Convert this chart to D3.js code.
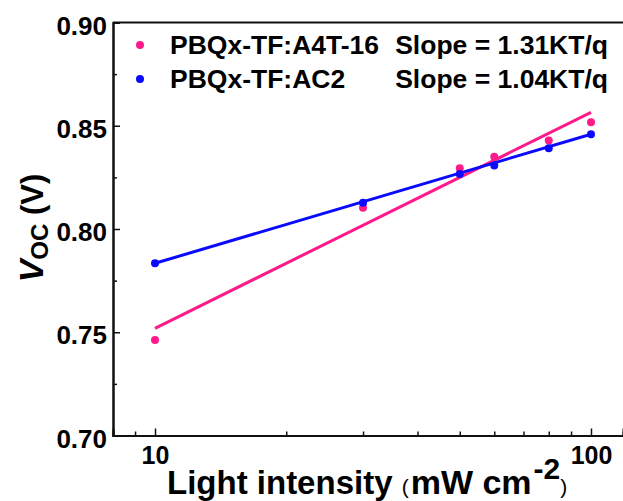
<!DOCTYPE html>
<html>
<head>
<meta charset="utf-8">
<script src="https://cdn.jsdelivr.net/npm/d3@7"></script>
<style>
  body { margin: 0; background: #fff; }
  svg { display: block; font-family: "Liberation Sans", Arial, sans-serif; }
</style>
</head>
<body>
<svg id="chart" width="623" height="501"></svg>
<script>
// light intensity (mW cm-2)
const intensity = [10, 30, 50, 60, 80, 100];
// Voc values
const vocA4T = [0.7462, 0.8103, 0.8294, 0.8350, 0.8428, 0.8517];
const vocAC2 = [0.7834, 0.8127, 0.8266, 0.8307, 0.8391, 0.8459];
// fitted lines, end points at 10 and 100
const fitX = [10, 100];
const fitA4T = [0.7519, 0.8565];
const fitAC2 = [0.7834, 0.8459];

const seriesNames = ['PBQx-TF:A4T-16', 'PBQx-TF:AC2'];
const slopeLabels = ['Slope = 1.31KT/q', 'Slope = 1.04KT/q'];
const colors = ['#ff1a8c', '#0a0aff'];

const yTicks = [0.70, 0.75, 0.80, 0.85, 0.90];
const yMinor = [0.725, 0.775, 0.825, 0.875];
const xTicks = [10, 100];
const xMinor = [9, 20, 30, 40, 50, 60, 70, 80, 90];

const svg = d3.select('#chart');
const pLeft = 113, pRight = 623, pTop = 22.5, pBottom = 435.5;

let x = d3.scaleLog().domain([10, 100]).range([155, 591]);
x.domain([x.invert(pLeft), x.invert(pRight)]).range([pLeft, pRight]);
let y = d3.scaleLinear().domain([0.70, 0.90]).range([pBottom, pTop]);

// top frame line
svg.append('line')
  .attr('x1', pLeft).attr('x2', pRight)
  .attr('y1', pTop).attr('y2', pTop)
  .attr('stroke', '#111').attr('stroke-width', 2);

// x axis
let xg = svg.append('g').attr('transform', `translate(0, ${pBottom})`);
xg.call(d3.axisBottom(x).tickValues(xMinor).tickSize(-4).tickFormat(''));
xg.append('g').call(d3.axisBottom(x).tickValues(xTicks).tickSize(-7).tickPadding(11).tickFormat(d3.format('d')));
xg.selectAll('path').attr('stroke', '#111').attr('stroke-width', 2);
xg.selectAll('line').attr('stroke', '#111').attr('stroke-width', 1.5);
xg.selectAll('text')
  .attr('font-size', 25).attr('font-weight', 'bold').attr('fill', '#000')
  .attr('font-family', '"Liberation Sans", Arial, sans-serif');

// y axis
let yg = svg.append('g').attr('transform', `translate(${pLeft}, 0)`);
yg.call(d3.axisLeft(y).tickValues(yMinor).tickSize(-4).tickFormat(''));
yg.append('g').call(d3.axisLeft(y).tickValues(yTicks).tickSize(-7).tickPadding(6).tickFormat(d3.format('.2f')));
yg.selectAll('path').attr('stroke', '#111').attr('stroke-width', 2);
yg.selectAll('line').attr('stroke', '#111').attr('stroke-width', 1.5);
yg.selectAll('text')
  .attr('font-size', 26).attr('font-weight', 'bold').attr('fill', '#000')
  .attr('dy', '0.45em')
  .attr('font-family', '"Liberation Sans", Arial, sans-serif');

// fit lines
let line = d3.line().x(d => x(d[0])).y(d => y(d[1]));
[fitA4T, fitAC2].forEach((f, i) => {
  svg.append('path')
    .datum(fitX.map((v, j) => [v, f[j]]))
    .attr('d', line)
    .attr('fill', 'none')
    .attr('stroke', colors[i])
    .attr('stroke-width', 3);
});

// data points
[vocA4T, vocAC2].forEach((s, i) => {
  svg.append('g').selectAll('circle')
    .data(intensity.map((v, j) => [v, s[j]]))
    .join('circle')
    .attr('cx', d => x(d[0]))
    .attr('cy', d => y(d[1]))
    .attr('r', 4)
    .attr('fill', colors[i]);
});

// legend
seriesNames.forEach((name, i) => {
  let ly = 45 + i * 34;
  svg.append('circle').attr('cx', 140).attr('cy', ly).attr('r', 4).attr('fill', colors[i]);
  svg.append('text')
    .attr('x', 170).attr('y', ly + 9)
    .attr('font-size', 26.5).attr('font-weight', 'bold')
    .text(name);
  svg.append('text')
    .attr('x', 608).attr('y', ly + 9)
    .attr('text-anchor', 'end')
    .attr('font-size', 26.5).attr('font-weight', 'bold')
    .text(slopeLabels[i]);
});

// y title
let yt = svg.append('text')
  .attr('transform', 'translate(43, 228) rotate(-90)')
  .attr('text-anchor', 'middle')
  .attr('font-weight', 'bold');
yt.append('tspan').attr('font-size', 34).attr('font-style', 'italic').text('V');
yt.append('tspan').attr('font-size', 24).attr('dy', 5).text('OC');
yt.append('tspan').attr('font-size', 31).attr('dy', -5).text(' (V)');

// x title
let xt = svg.append('text')
  .attr('x', 167).attr('y', 494)
  .attr('font-weight', 'bold');
xt.append('tspan').attr('font-size', 33).text('Light intensity ');
xt.append('tspan').attr('font-size', 21).attr('font-weight', 'normal').text('(');
xt.append('tspan').attr('font-size', 34).attr('dx', 2).text('mW cm');
xt.append('tspan').attr('font-size', 30).attr('dx', 2).attr('dy', -15).text('-2');
xt.append('tspan').attr('font-size', 21).attr('font-weight', 'normal').attr('dy', 15).text(')');
</script>
</body>
</html>
